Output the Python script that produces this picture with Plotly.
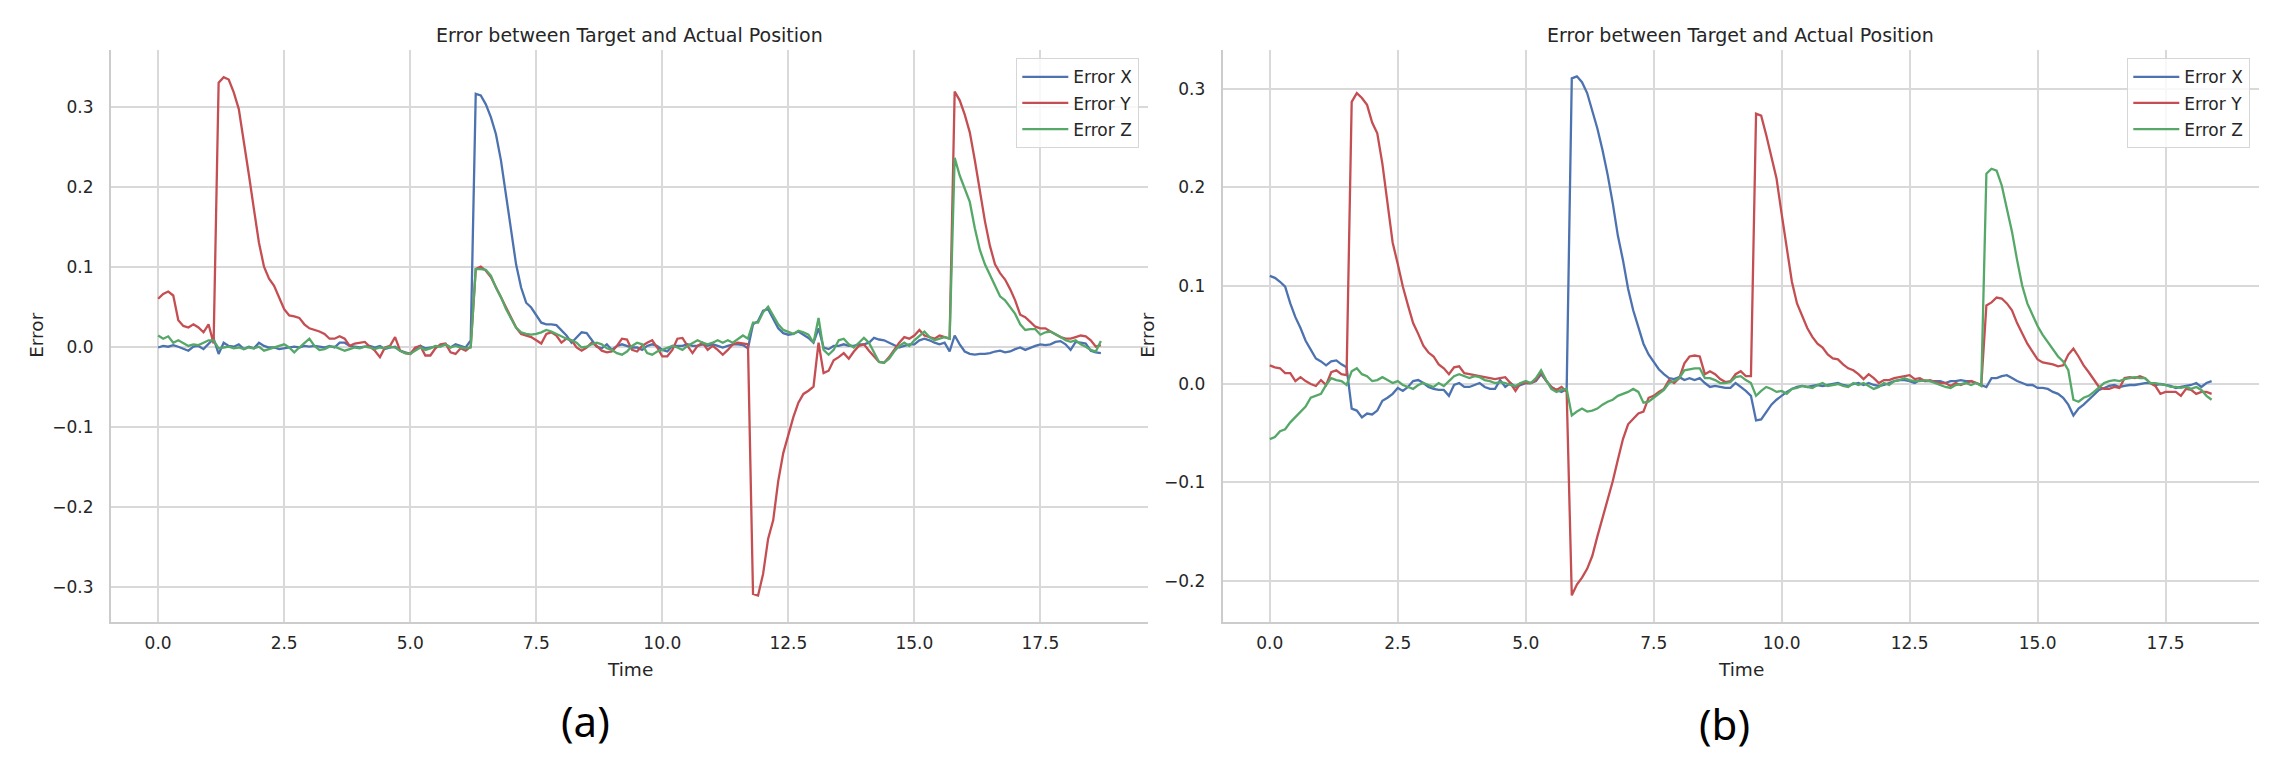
import plotly.graph_objects as go

# ---------------- data : panel (a) ----------------
err_x_a = [
    -0.001, 0.001, 0.000, 0.002, 0.000, -0.003, -0.005, 0.000, 0.001, -0.003,
    0.004, 0.010, -0.009, 0.005, 0.001, 0.000, 0.003, -0.003, 0.000, -0.002,
    0.005, 0.001, -0.001, -0.001, -0.003, -0.002, -0.001, 0.000, -0.001, 0.001,
    0.000, 0.001, 0.000, -0.001, 0.001, -0.001, 0.005, 0.005, 0.001, 0.000,
    -0.001, 0.000, 0.001, -0.001, 0.001, -0.003, -0.001, 0.000, -0.005, -0.007,
    -0.009, -0.003, 0.001, -0.002, -0.001, 0.000, 0.001, 0.003, -0.001, 0.003,
    0.001, -0.001, 0.008, 0.316, 0.314, 0.303, 0.287, 0.266, 0.233, 0.190,
    0.145, 0.103, 0.074, 0.055, 0.049, 0.039, 0.030, 0.028, 0.028, 0.027,
    0.020, 0.014, 0.005, 0.012, 0.018, 0.017, 0.008, 0.000, -0.002, 0.003,
    -0.004, 0.001, 0.003, 0.001, -0.001, -0.001, -0.004, 0.001, 0.003, 0.001,
    -0.004, -0.006, 0.001, 0.001, 0.001, 0.003, 0.001, 0.001, 0.003, 0.001,
    0.003, 0.001, -0.001, 0.001, 0.003, 0.003, 0.002, -0.002, 0.028, 0.032,
    0.045, 0.047, 0.034, 0.023, 0.017, 0.015, 0.016, 0.019, 0.015, 0.011,
    0.005, 0.023, -0.001, -0.003, 0.001, 0.001, 0.003, 0.001, 0.001, 0.003,
    0.003, 0.005, 0.011, 0.009, 0.008, 0.005, 0.001, -0.001, 0.001, 0.003,
    0.003, 0.008, 0.010, 0.008, 0.005, 0.003, 0.005, -0.006, 0.014, 0.003,
    -0.006, -0.009, -0.010, -0.009, -0.009, -0.008, -0.006, -0.005, -0.007, -0.006,
    -0.003, -0.001, -0.004, -0.001, 0.001, 0.003, 0.002, 0.003, 0.006, 0.007,
    0.003, -0.004, 0.006, 0.005, 0.004, -0.005, -0.007, -0.008,
]
err_y_a = [
    0.060, 0.066, 0.069, 0.064, 0.033, 0.026, 0.024, 0.028, 0.024, 0.018,
    0.028, 0.004, 0.330, 0.337, 0.334, 0.318, 0.297, 0.258, 0.215, 0.172,
    0.130, 0.100, 0.085, 0.076, 0.062, 0.047, 0.039, 0.038, 0.036, 0.028,
    0.023, 0.021, 0.019, 0.016, 0.010, 0.010, 0.013, 0.010, 0.001, 0.004,
    0.005, 0.006, 0.000, -0.005, -0.013, -0.001, 0.001, 0.012, -0.005, -0.008,
    -0.009, -0.001, 0.001, -0.011, -0.011, -0.002, 0.003, 0.004, -0.007, -0.009,
    -0.002, -0.005, 0.000, 0.097, 0.100, 0.095, 0.087, 0.074, 0.062, 0.049,
    0.037, 0.024, 0.016, 0.014, 0.012, 0.008, 0.004, 0.016, 0.018, 0.014,
    0.005, 0.010, 0.008, -0.001, -0.005, -0.001, 0.005, 0.001, -0.005, -0.007,
    -0.006, 0.001, 0.010, 0.009, -0.004, -0.006, 0.001, 0.005, 0.008, -0.001,
    -0.012, -0.012, -0.004, 0.010, 0.011, 0.001, -0.008, 0.001, 0.005, -0.004,
    0.001, -0.004, -0.010, -0.004, 0.003, 0.005, 0.004, 0.003, -0.309, -0.311,
    -0.284, -0.240, -0.217, -0.168, -0.133, -0.110, -0.088, -0.070, -0.059, -0.055,
    -0.050, 0.005, -0.033, -0.030, -0.017, -0.013, -0.008, -0.015, -0.006, 0.001,
    0.003, -0.005, -0.012, -0.019, -0.020, -0.013, -0.004, 0.005, 0.012, 0.010,
    0.014, 0.021, 0.014, 0.012, 0.010, 0.014, 0.012, 0.010, 0.319, 0.308,
    0.290, 0.268, 0.233, 0.192, 0.157, 0.126, 0.103, 0.092, 0.084, 0.072,
    0.058, 0.040, 0.037, 0.031, 0.025, 0.023, 0.023, 0.019, 0.015, 0.012,
    0.010, 0.010, 0.012, 0.014, 0.013, 0.008, 0.000, 0.002,
]
err_z_a = [
    0.014, 0.010, 0.013, 0.005, 0.008, 0.005, 0.001, 0.003, 0.002, 0.005,
    0.008, 0.008, -0.002, -0.001, 0.000, -0.002, -0.001, -0.003, -0.001, -0.002,
    0.000, -0.005, -0.003, -0.001, 0.001, 0.003, -0.001, -0.007, -0.001, 0.005,
    0.010, 0.001, -0.004, -0.003, 0.000, 0.000, -0.003, -0.005, -0.003, -0.001,
    -0.002, 0.000, -0.001, -0.003, -0.001, -0.002, 0.000, -0.001, -0.005, -0.008,
    -0.009, -0.005, -0.001, -0.004, -0.002, 0.001, 0.000, 0.003, -0.001, 0.001,
    -0.001, -0.002, -0.001, 0.097, 0.097, 0.096, 0.089, 0.074, 0.062, 0.047,
    0.035, 0.024, 0.018, 0.016, 0.015, 0.016, 0.018, 0.021, 0.019, 0.016,
    0.012, 0.010, 0.008, 0.005, -0.001, 0.000, 0.003, 0.005, 0.003, -0.002,
    -0.004, -0.008, -0.010, -0.006, 0.001, 0.005, 0.003, -0.008, -0.010, -0.006,
    -0.004, -0.001, 0.001, -0.001, -0.004, 0.001, 0.005, 0.008, 0.005, 0.003,
    0.005, 0.008, 0.005, 0.008, 0.005, 0.010, 0.014, 0.010, 0.030, 0.030,
    0.043, 0.050, 0.039, 0.028, 0.021, 0.018, 0.016, 0.020, 0.018, 0.015,
    0.005, 0.036, -0.004, -0.010, -0.004, 0.008, 0.010, 0.003, -0.001, 0.005,
    0.011, 0.005, -0.008, -0.019, -0.020, -0.015, -0.006, 0.001, 0.005, 0.001,
    0.008, 0.014, 0.019, 0.012, 0.008, 0.010, 0.012, 0.010, 0.236, 0.214,
    0.197, 0.181, 0.148, 0.121, 0.103, 0.090, 0.077, 0.063, 0.058, 0.050,
    0.041, 0.028, 0.021, 0.022, 0.022, 0.015, 0.018, 0.019, 0.016, 0.012,
    0.008, 0.006, 0.008, 0.003, 0.000, -0.004, -0.006, 0.007,
]
time_a = [i / 10 for i in range(len(err_x_a))]

# ---------------- data : panel (b) ----------------
err_x_b = [
    0.110, 0.108, 0.104, 0.099, 0.082, 0.068, 0.057, 0.044, 0.035, 0.026,
    0.023, 0.019, 0.023, 0.024, 0.020, 0.017, -0.025, -0.027, -0.034, -0.030,
    -0.031, -0.027, -0.017, -0.014, -0.010, -0.004, -0.007, -0.003, 0.003, 0.004,
    0.001, -0.003, -0.005, -0.006, -0.006, -0.012, -0.001, 0.001, -0.003, -0.003,
    -0.001, 0.001, -0.003, -0.005, -0.005, 0.004, -0.003, 0.001, -0.003, -0.001,
    0.001, 0.001, 0.003, 0.010, 0.003, -0.003, -0.006, -0.008, -0.005, 0.311,
    0.313, 0.307, 0.296, 0.278, 0.260, 0.238, 0.213, 0.184, 0.151, 0.126,
    0.097, 0.075, 0.057, 0.041, 0.030, 0.023, 0.015, 0.010, 0.006, 0.005,
    0.007, 0.004, 0.006, 0.004, 0.006, 0.001, -0.003, -0.002, -0.003, -0.004,
    -0.004, 0.001, -0.003, -0.007, -0.012, -0.037, -0.036, -0.028, -0.021, -0.016,
    -0.012, -0.008, -0.005, -0.003, -0.002, -0.003, -0.002, -0.001, -0.002, -0.001,
    0.000, 0.001, -0.001, -0.002, 0.000, 0.001, -0.001, 0.001, -0.001, -0.002,
    -0.001, 0.001, 0.003, 0.004, 0.004, 0.003, 0.001, 0.004, 0.003, 0.003,
    0.003, 0.003, 0.001, 0.003, 0.003, 0.004, 0.003, 0.003, 0.001, -0.001,
    -0.003, 0.006, 0.006, 0.008, 0.009, 0.006, 0.003, 0.001, -0.001, -0.001,
    -0.004, -0.004, -0.005, -0.008, -0.010, -0.014, -0.021, -0.032, -0.025, -0.021,
    -0.016, -0.010, -0.006, -0.004, -0.002, -0.001, -0.003, -0.002, -0.001, -0.001,
    0.000, 0.001, 0.001, -0.001, 0.000, -0.001, -0.002, -0.004, -0.003, -0.002,
    -0.001, 0.001, -0.003, 0.001, 0.003,
]
err_y_b = [
    0.019, 0.017, 0.016, 0.011, 0.011, 0.003, 0.007, 0.003, 0.000, -0.002,
    0.004, -0.001, 0.012, 0.014, 0.010, 0.009, 0.287, 0.296, 0.291, 0.284,
    0.266, 0.255, 0.224, 0.184, 0.144, 0.122, 0.099, 0.080, 0.062, 0.051,
    0.039, 0.032, 0.028, 0.020, 0.016, 0.010, 0.017, 0.018, 0.011, 0.010,
    0.009, 0.008, 0.007, 0.006, 0.005, 0.006, 0.007, 0.001, -0.007, 0.001,
    0.001, 0.001, 0.004, 0.012, 0.003, -0.003, -0.006, -0.003, -0.008, -0.215,
    -0.204, -0.197, -0.188, -0.175, -0.155, -0.137, -0.117, -0.099, -0.077, -0.056,
    -0.041, -0.036, -0.030, -0.028, -0.014, -0.012, -0.008, -0.005, 0.004, 0.001,
    0.006, 0.021, 0.028, 0.029, 0.028, 0.010, 0.013, 0.010, 0.005, 0.002,
    0.003, 0.010, 0.013, 0.008, 0.008, 0.275, 0.273, 0.253, 0.231, 0.209,
    0.173, 0.137, 0.104, 0.082, 0.070, 0.057, 0.048, 0.041, 0.037, 0.030,
    0.026, 0.025, 0.020, 0.016, 0.014, 0.010, 0.005, 0.010, 0.006, 0.001,
    0.004, 0.004, 0.006, 0.007, 0.008, 0.009, 0.005, 0.006, 0.003, 0.004,
    0.002, 0.001, 0.001, -0.002, 0.001, -0.001, 0.001, 0.003, 0.001, -0.001,
    0.080, 0.083, 0.088, 0.087, 0.082, 0.075, 0.062, 0.052, 0.041, 0.033,
    0.025, 0.022, 0.021, 0.020, 0.018, 0.019, 0.030, 0.036, 0.028, 0.019,
    0.012, 0.005, -0.003, -0.005, -0.005, -0.003, -0.004, 0.006, 0.007, 0.006,
    0.008, 0.006, 0.001, -0.002, -0.010, -0.008, -0.008, -0.008, -0.012, -0.005,
    -0.006, -0.010, -0.008, -0.008, -0.010,
]
err_z_b = [
    -0.056, -0.054, -0.048, -0.046, -0.039, -0.034, -0.028, -0.023, -0.014, -0.012,
    -0.010, -0.001, 0.006, 0.004, 0.003, -0.001, 0.013, 0.016, 0.010, 0.008,
    0.003, 0.004, 0.007, 0.004, 0.001, 0.003, -0.001, -0.003, -0.005, -0.001,
    0.001, -0.001, -0.003, 0.001, -0.002, 0.003, 0.008, 0.010, 0.008, 0.006,
    0.008, 0.007, 0.004, 0.003, 0.001, 0.002, 0.001, -0.001, -0.002, 0.001,
    0.003, 0.001, 0.006, 0.014, 0.004, -0.005, -0.008, -0.006, -0.005, -0.032,
    -0.028, -0.025, -0.028, -0.027, -0.025, -0.021, -0.018, -0.016, -0.012, -0.010,
    -0.008, -0.005, -0.008, -0.019, -0.018, -0.014, -0.010, -0.006, 0.001, 0.003,
    0.006, 0.014, 0.015, 0.016, 0.016, 0.006, 0.006, 0.004, 0.001, 0.001,
    0.002, 0.007, 0.008, 0.004, 0.001, -0.012, -0.007, -0.003, -0.005, -0.008,
    -0.007, -0.010, -0.005, -0.004, -0.002, -0.003, -0.004, -0.001, 0.001, -0.002,
    -0.001, 0.000, -0.002, -0.003, 0.001, -0.001, 0.001, -0.002, -0.005, -0.003,
    0.001, -0.001, 0.003, 0.004, 0.006, 0.004, 0.003, 0.003, 0.004, 0.003,
    0.001, -0.001, -0.003, -0.004, -0.001, 0.000, 0.001, -0.001, 0.001, -0.002,
    0.214, 0.219, 0.217, 0.202, 0.180, 0.155, 0.126, 0.100, 0.082, 0.070,
    0.059, 0.050, 0.043, 0.035, 0.028, 0.023, 0.014, -0.016, -0.018, -0.014,
    -0.012, -0.008, -0.003, 0.001, 0.003, 0.004, 0.003, 0.005, 0.006, 0.007,
    0.006, 0.006, 0.001, 0.001, 0.000, -0.001, -0.003, -0.003, -0.004, -0.003,
    -0.005, -0.003, -0.006, -0.012, -0.016,
]
time_b = [i / 10 for i in range(len(err_x_b))]

series_names = ["Error X", "Error Y", "Error Z"]
series_colors = ["#4C72B0", "#C44E52", "#55A868"]

x_tick_vals = [0.0, 2.5, 5.0, 7.5, 10.0, 12.5, 15.0, 17.5]
x_tick_text = ["0.0", "2.5", "5.0", "7.5", "10.0", "12.5", "15.0", "17.5"]
y_tick_vals_a = [-0.3, -0.2, -0.1, 0.0, 0.1, 0.2, 0.3]
y_tick_text_a = ["\u22120.3", "\u22120.2", "\u22120.1", "0.0", "0.1", "0.2", "0.3"]
y_tick_vals_b = [-0.2, -0.1, 0.0, 0.1, 0.2, 0.3]
y_tick_text_b = ["\u22120.2", "\u22120.1", "0.0", "0.1", "0.2", "0.3"]

title_text = "Error between Target and Actual Position"
x_label = "Time"
y_label = "Error"
panel_labels = ["(a)", "(b)"]

# ---------------- figure ----------------
W, H = 2282, 779


def fx(px):
    return px / W


def fy(py):
    return 1 - py / H


FONT = "DejaVu Sans"
TXT = "#262626"
GRID = "#d9d9d9"
SPINE = "#cccccc"

fig = go.Figure()

panels = [
    (time_a, [err_x_a, err_y_a, err_z_a], "x", "y", "legend"),
    (time_b, [err_x_b, err_y_b, err_z_b], "x2", "y2", "legend2"),
]
for pi, (tt, vals, xa, ya, lg) in enumerate(panels):
    for name, col, v in zip(series_names, series_colors, vals):
        fig.add_trace(go.Scatter(
            x=tt, y=v, mode="lines", name=name,
            line=dict(color=col, width=2.3),
            xaxis=xa, yaxis=ya, legend=lg,
            legendgroup=f"{lg}_{name}",
        ))

common_axis = dict(
    showgrid=True, gridcolor=GRID, gridwidth=1.6,
    showline=True, linecolor=SPINE, linewidth=2,
    zeroline=False, ticks="outside",
    tickcolor="rgba(0,0,0,0)",
    tickfont=dict(family=FONT, size=17, color=TXT),
    mirror=False,
)

y_top, y_bot = 50, 621.7
fig.update_layout(
    width=W, height=H,
    margin=dict(l=0, r=0, t=0, b=0),
    paper_bgcolor="white", plot_bgcolor="white",
    xaxis=dict(domain=[fx(111), fx(1148)], range=[-0.935, 19.635], anchor="y",
               tickvals=x_tick_vals, ticktext=x_tick_text, ticklen=5, **common_axis),
    yaxis=dict(domain=[fy(y_bot), fy(y_top)], range=[-0.34375, 0.3709], anchor="x",
               tickvals=y_tick_vals_a, ticktext=y_tick_text_a, ticklen=12, **common_axis),
    xaxis2=dict(domain=[fx(1222.7), fx(2258.7)], range=[-0.92, 19.32], anchor="y2",
                tickvals=x_tick_vals, ticktext=x_tick_text, ticklen=5, **common_axis),
    yaxis2=dict(domain=[fy(y_bot), fy(y_top)], range=[-0.2418, 0.3398], anchor="x2",
                tickvals=y_tick_vals_b, ticktext=y_tick_text_b, ticklen=12, **common_axis),
    showlegend=True,
)

legend_common = dict(
    xanchor="right", yanchor="top", y=fy(58),
    bgcolor="rgba(255,255,255,0.8)", bordercolor="#d6d6d6", borderwidth=1.3,
    font=dict(family=FONT, size=17, color=TXT),
    traceorder="grouped", tracegroupgap=1, itemwidth=46,
)
fig.update_layout(
    legend=dict(x=fx(1139), **legend_common),
    legend2=dict(x=fx(2250), **legend_common),
)

annotations = []
for cx, lab_x in [((111 + 1148) / 2, 37), ((1222.7 + 2258.7) / 2, 1148)]:
    annotations.append(dict(text=title_text, x=fx(cx), y=fy(35), xref="paper", yref="paper",
                            showarrow=False, xanchor="center", yanchor="middle",
                            font=dict(family=FONT, size=19, color=TXT)))
    annotations.append(dict(text=x_label, x=fx(cx), y=fy(669), xref="paper", yref="paper",
                            showarrow=False, xanchor="center", yanchor="middle",
                            font=dict(family=FONT, size=18.5, color=TXT)))
    annotations.append(dict(text=y_label, x=fx(lab_x), y=fy((y_top + y_bot) / 2),
                            xref="paper", yref="paper", textangle=-90,
                            showarrow=False, xanchor="center", yanchor="middle",
                            font=dict(family=FONT, size=18.5, color=TXT)))
for lab, (px, py) in zip(panel_labels, [(585.7, 720), (1724, 723)]):
    annotations.append(dict(text=lab, x=fx(px), y=fy(py), xref="paper", yref="paper",
                            showarrow=False, xanchor="center", yanchor="middle",
                            font=dict(family="Noto Sans", size=42, color="black")))
fig.update_layout(annotations=annotations)

fig.write_html("out.html",
               config={"displayModeBar": False},
               post_script="document.body.style.margin='0';document.body.style.overflow='hidden';")
